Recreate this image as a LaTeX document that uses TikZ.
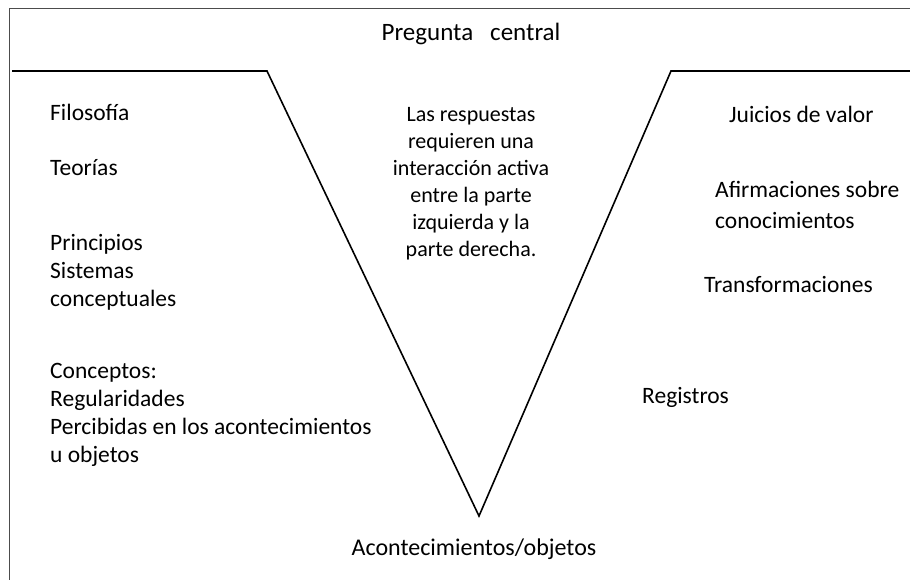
\documentclass[tikz,border=0pt]{standalone}
\usepackage{fontspec}
\setmainfont{Carlito}
\begin{document}
\begin{tikzpicture}[x=1pt,y=-1pt,
  lbl/.style={inner sep=0pt, anchor=base west, font=\fontsize{23.5}{28}\selectfont},
  ctr/.style={inner sep=0pt, anchor=base, font=\fontsize{22}{26.8}\selectfont},
  ttl/.style={inner sep=0pt, anchor=base, font=\fontsize{24}{28}\selectfont},
  vline/.style={line width=1.6pt, line join=miter},
  frame/.style={line width=1pt, draw=black!70}]
\useasboundingbox (0,0) rectangle (910,580);
\draw[frame] (9.5,580) -- (9.5,8.3) -- (910,8.3);
\coordinate (l0) at (12,71);
\coordinate (l1) at (267,71);
\coordinate (bt) at (479,516);
\coordinate (r1) at (671,71);
\coordinate (r0) at (910,71);
\draw[vline] (l0) -- (l1) -- (bt) -- (r1) -- (r0);
\node[ttl, font=\fontsize{25}{30}\selectfont] (pc) at (471,41) {Pregunta\hspace{17pt}central};
\node[ttl] (ao) at (474,555.5) {Acontecimientos/objetos};
% centre text
\node[ctr] (m1) at (471,122) {Las respuestas};
\node[ctr] (m2) at (471,148.8) {requieren una};
\node[ctr] (m3) at (471,175.6) {interacción activa};
\node[ctr] (m4) at (471,202.4) {entre la parte};
\node[ctr] (m5) at (471,229.2) {izquierda y la};
\node[ctr] (m6) at (471,256) {parte derecha.};
% left column
\node[lbl] (fil) at (50,120.5) {Filosofía};
\node[lbl] (teo) at (50,175.5) {Teorías};
\node[lbl] (pri) at (50,250.5) {Principios};
\node[lbl] (sis) at (50,278.5) {Sistemas};
\node[lbl] (cpt) at (50,306) {conceptuales};
\node[lbl] (con) at (50,378.5) {Conceptos:};
\node[lbl] (reg) at (50,406.5) {Regularidades};
\node[lbl] (per) at (50,434.5) {Percibidas en los acontecimientos};
\node[lbl] (uob) at (50,462.5) {u objetos};
% right column
\node[lbl] (jui) at (729,122.5) {Juicios de valor};
\node[lbl] (afi) at (715,197.5) {Afirmaciones sobre};
\node[lbl] (cono) at (715,228.5) {conocimientos};
\node[lbl] (tra) at (704,292.5) {Transformaciones};
\node[lbl] (rgs) at (642,403.5) {Registros};
\end{tikzpicture}
\end{document}
